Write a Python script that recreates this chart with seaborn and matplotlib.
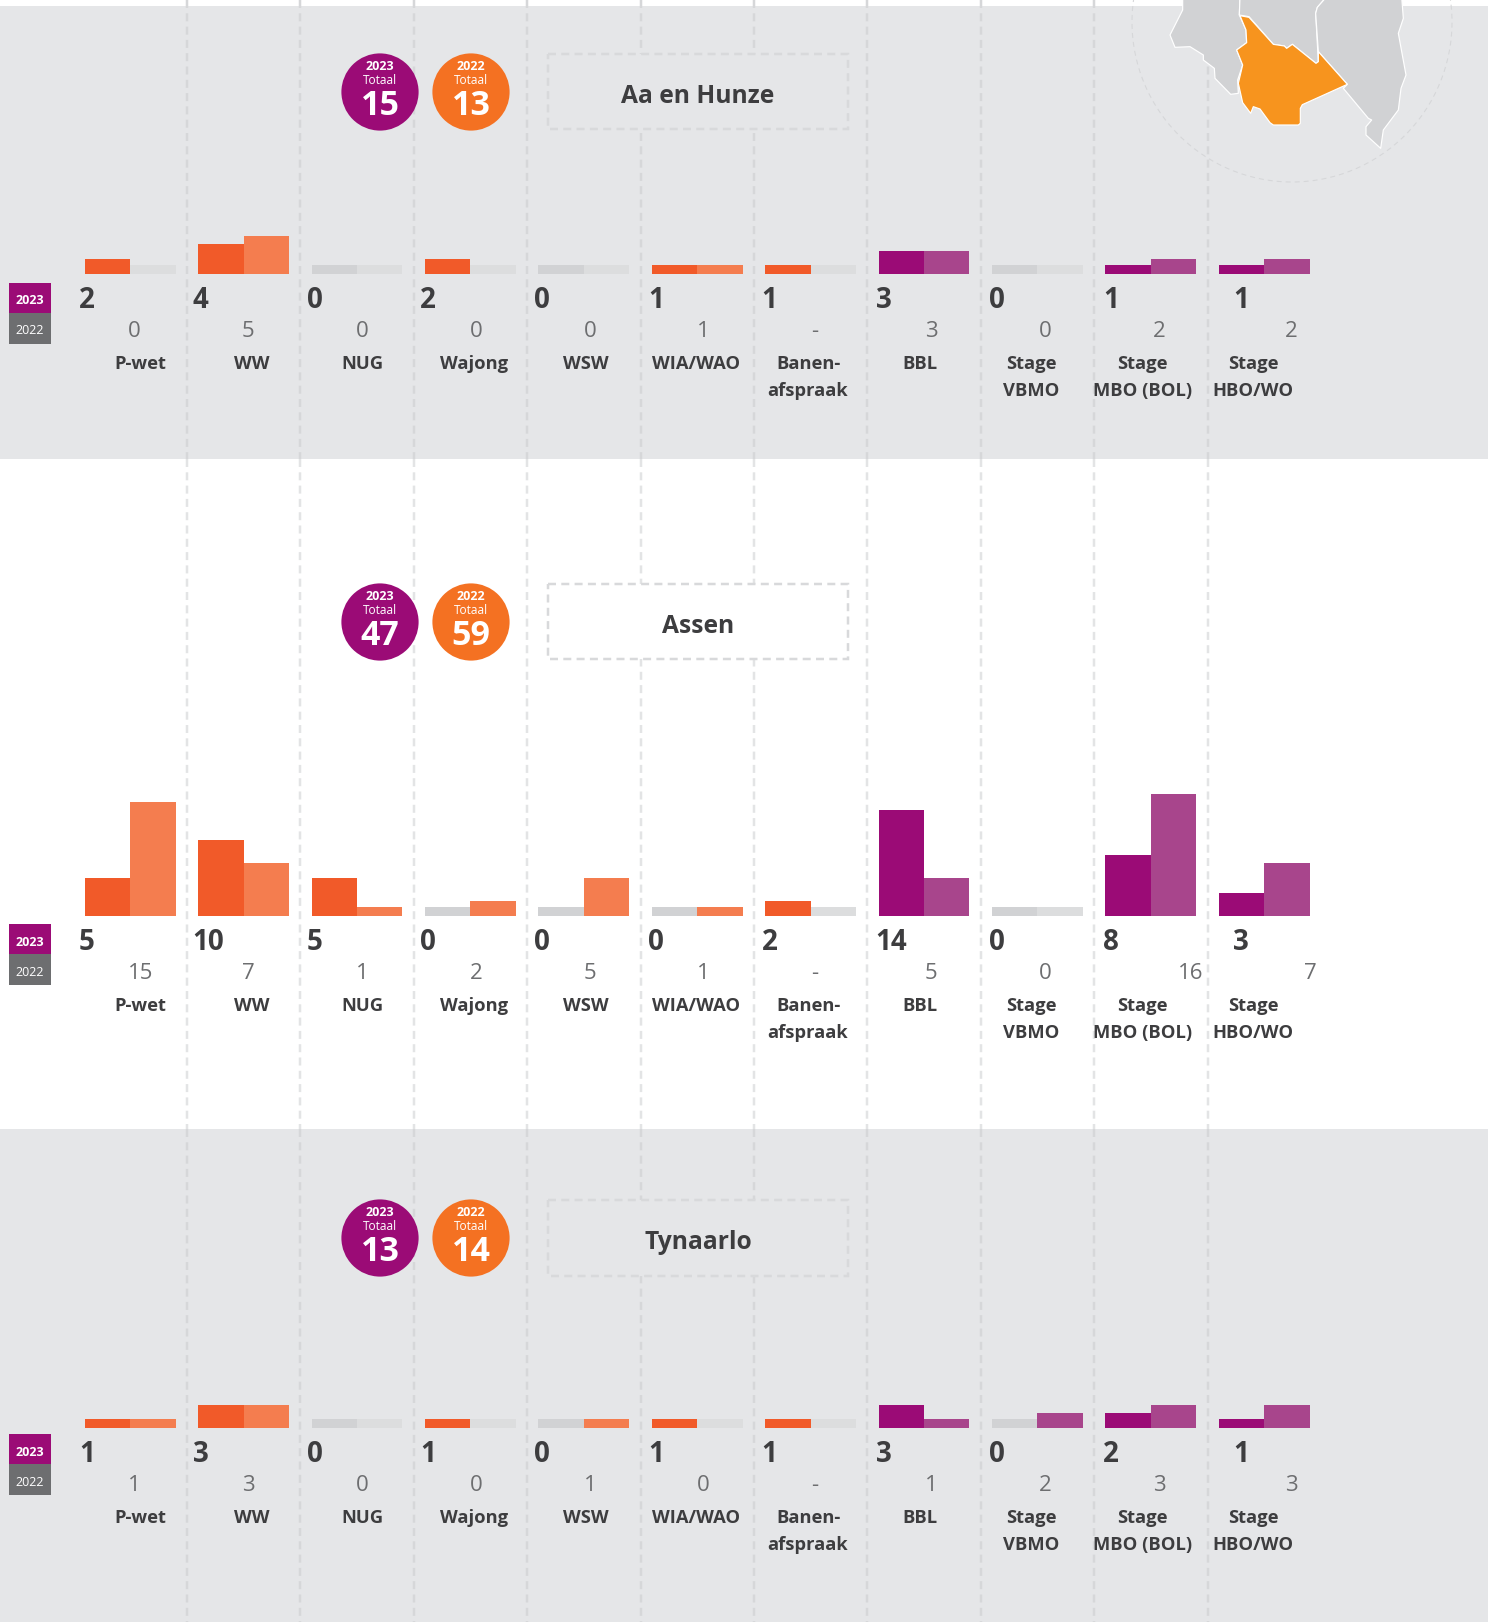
import numpy as np
import pandas as pd
import matplotlib
matplotlib.use("Agg")
import matplotlib.pyplot as plt
from matplotlib.patches import Circle, Polygon, Rectangle
import seaborn as sns

categories = ["P-wet", "WW", "NUG", "Wajong", "WSW", "WIA/WAO", "Banen-\nafspraak", "BBL",
              "Stage\nVBMO", "Stage\nMBO (BOL)", "Stage\nHBO/WO"]
regions = ["Aa en Hunze", "Assen", "Tynaarlo"]
aa_2023 = [2, 4, 0, 2, 0, 1, 1, 3, 0, 1, 1]
aa_2022 = [0, 5, 0, 0, 0, 1, None, 3, 0, 2, 2]
assen_2023 = [5, 10, 5, 0, 0, 0, 2, 14, 0, 8, 3]
assen_2022 = [15, 7, 1, 2, 5, 1, None, 5, 0, 16, 7]
tyn_2023 = [1, 3, 0, 1, 0, 1, 1, 3, 0, 2, 1]
tyn_2022 = [1, 3, 0, 0, 1, 0, None, 1, 2, 3, 3]
totals_2023 = [15, 47, 13]
totals_2022 = [13, 59, 14]

sns.set_theme(style="white")
plt.rcParams["font.family"] = ["Open Sans", "DejaVu Sans"]
plt.rcParams["lines.scale_dashes"] = False

W, H = 1488, 1622
fig = plt.figure(figsize=(W / 100, H / 100), dpi=100, facecolor="white")
bg = fig.add_axes([0, 0, 1, 1], zorder=0)
bg.set_xlim(0, W); bg.set_ylim(H, 0); bg.set_axis_off()

BAND = "#e5e6e8"
DASH = "#d6d7d9"
DASH_W = "#e3e4e5"
DARK = "#3d3d3f"
GREY = "#6d6e70"
PURPLE = "#9b0b76"; PURPLE_L = "#a8458c"
ORANGE = "#f15a29"; ORANGE_L = "#f47d4f"
ZERO = "#d1d2d4"; ZERO_L = "#dcddde"
px = 0.72  # points per pixel
DASHES = (0, (8 * px, 5.3 * px))

bg.add_patch(Rectangle((0, 6), W, 453, fc=BAND, ec="none", zorder=0))
bg.add_patch(Rectangle((0, 1129), W, H - 1129, fc=BAND, ec="none", zorder=0))

for k in range(10):
    x = 187 + 113.4 * k
    for y0, y1, col in ((0, 459, DASH), (459, 1129, DASH_W), (1129, H, DASH)):
        bg.plot([x, x], [y0, y1], color=col, lw=2.5 * px, ls=DASHES, zorder=1)

# inset map
bg.add_patch(Circle((1292, 22), 160, fc="none", ec="#d6d7d9", lw=1.1 * px, ls=(0, (5 * px, 4 * px)), zorder=1.5))
def mp(points):
    return [(1100 + a / 3, b / 3) for a, b in points]
left = [(248, -10), (248, 30), (210, 105), (225, 142), (270, 140), (310, 165), (310, 180), (343, 205), (345, 235),
        (392, 283), (415, 280), (413, 240), (428, 195), (410, 150), (440, 128), (438, 90), (418, 45), (420, -10)]
mid = [(420, -10), (418, 45), (447, 50), (520, 133), (553, 138), (560, 145), (577, 133), (648, 190), (655, 185),
       (647, 40), (652, 22), (680, -10)]
right = [(680, -10), (652, 22), (647, 40), (655, 155), (742, 253), (730, 265), (805, 355), (815, 360), (798, 380),
         (798, 405), (842, 445), (850, 390), (895, 330), (903, 265), (918, 225), (895, 100), (910, 55), (905, -10)]
orange = [(420, 47), (447, 52), (520, 133), (553, 138), (560, 145), (577, 133), (648, 190), (655, 185), (655, 155),
          (742, 253), (607, 314), (601, 325), (601, 370), (595, 375), (520, 375), (510, 368), (480, 327), (460, 320),
          (452, 340), (428, 308), (415, 250), (428, 195), (410, 150), (440, 128), (438, 90)]
for poly, col in ((left, ZERO), (mid, ZERO), (right, ZERO), (orange, "#f7941e")):
    bg.add_patch(Polygon(mp(poly), closed=True, fc=col, ec="white", lw=1.2 * px, zorder=2, joinstyle="round"))

baselines = [274, 916, 1428]
chip_top = [283, 924, 1434]
circle_y = [92, 622, 1238]
box_y = [(54, 129), (584, 659), (1200, 1276)]
fills = [BAND, "white", BAND]
x23 = [79 + 113.8 * k for k in range(10)] + [1233.5]
x22_default = [134.5, 248.4, 362, 476, 590, 703.6, 815, 931, 1045, 1159, 1291]
x22_assen = [140.7, 248.4, 362, 476, 590, 703.6, 815, 931, 1045, 1191, 1310]
xlabels = [140, 251.5, 362, 474, 586, 696.5, 808, 920, 1031, 1142.5, 1253]
x22s = [x22_default, x22_assen, x22_default]
vals23 = [aa_2023, assen_2023, tyn_2023]
vals22 = [aa_2022, assen_2022, tyn_2022]

UNIT = 7.6      # pixels per person
STUB = 1.15     # placeholder height of an empty bar
AX_H = 160
for r, name in enumerate(regions):
    base = baselines[r]
    rows = []
    for c, cat in enumerate(categories):
        rows.append({"cat": cat, "jaar": "2023", "v": max(vals23[r][c], STUB)})
        rows.append({"cat": cat, "jaar": "2022", "v": max(vals22[r][c] or 0, STUB)})
    df = pd.DataFrame(rows)
    ax = fig.add_axes([73.5 / W, 1 - base / H, 11 * 113.4 / W, AX_H / H], zorder=2)
    ax.patch.set_alpha(0)
    sns.barplot(data=df, x="cat", y="v", hue="jaar", hue_order=["2023", "2022"], order=categories,
                ax=ax, legend=False, errorbar=None, width=0.8, saturation=1, linewidth=0)
    ax.set_xlim(-0.5, 10.5); ax.set_ylim(0, AX_H / UNIT); ax.set_axis_off()
    for c in range(len(categories)):
        main, light = (PURPLE, PURPLE_L) if c >= 7 else (ORANGE, ORANGE_L)
        p23, p22 = ax.containers[0][c], ax.containers[1][c]
        p23.set_facecolor(main if vals23[r][c] else ZERO)
        p22.set_facecolor(light if vals22[r][c] else ZERO_L)
        p23.set_edgecolor("none"); p22.set_edgecolor("none")

    # legend chips
    top = chip_top[r]
    bg.add_patch(Rectangle((9, top), 42, 30, fc=PURPLE, ec="none", zorder=3))
    bg.add_patch(Rectangle((9, top + 30), 42, 31, fc=GREY, ec="none", zorder=3))
    bg.text(30, top + 21.5, "2023", color="white", fontsize=9, fontweight="bold", ha="center", va="baseline", zorder=4)
    bg.text(30, top + 51.5, "2022", color="white", fontsize=9, ha="center", va="baseline", zorder=4)

    # values and labels
    for c, cat in enumerate(categories):
        bg.text(x23[c], base + 34, str(vals23[r][c]), color=DARK, fontsize=20, fontweight="bold",
                ha="left", va="baseline", zorder=4)
        v22 = vals22[r][c]
        bg.text(x22s[r][c], base + 62.7, "-" if v22 is None else str(v22), color=GREY, fontsize=16,
                ha="center", va="baseline", zorder=4)
        for i, line in enumerate(cat.split("\n")):
            bg.text(xlabels[c], base + 95 + 27 * i, line, color=DARK, fontsize=13.2, fontweight="bold",
                    ha="center", va="baseline", zorder=4)

    # totals
    cy = circle_y[r]
    for cx, col, year, tot in ((380, PURPLE, "2023", totals_2023[r]), (471, "#f47122", "2022", totals_2022[r])):
        bg.add_patch(Circle((cx, cy), 38.6, fc=col, ec="none", zorder=3))
        bg.text(cx, cy - 22, year, color="white", fontsize=9, fontweight="bold", ha="center", va="baseline", zorder=4)
        bg.text(cx, cy - 8.5, "Totaal", color="white", fontsize=8.6, ha="center", va="baseline", zorder=4)
        bg.text(cx, cy + 23, str(tot), color="white", fontsize=24.5, fontweight="bold", ha="center", va="baseline", zorder=4)

    # title box
    y0, y1 = box_y[r]
    bg.add_patch(Rectangle((548, y0), 300, y1 - y0, fc=fills[r], ec="#d8d9db", lw=2.5 * px,
                           ls=DASHES, zorder=2.5))
    bg.text(698, y0 + 49, name, color=DARK, fontsize=17.7, fontweight="bold", ha="center", va="baseline", zorder=4)

fig.savefig("out.png", dpi=100, facecolor="white")
